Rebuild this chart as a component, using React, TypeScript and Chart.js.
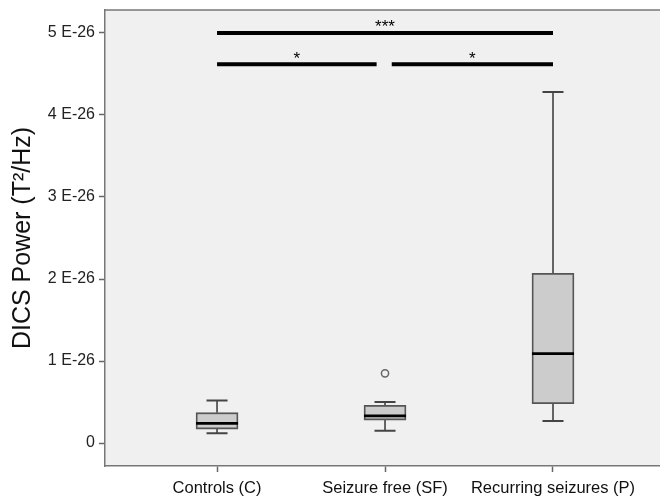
import React, { useEffect, useRef } from 'react';
import { Chart, registerables } from 'chart.js';

Chart.register(...registerables);

// Values in units of 1 E-26 T²/Hz
const categories = ['Controls (C)', 'Seizure free (SF)', 'Recurring seizures (P)'];
const whiskerLow = [0.12, 0.15, 0.27];
const quartile1 = [0.17, 0.28, 0.48];
const medians = [0.24, 0.33, 1.09];
const quartile3 = [0.37, 0.46, 2.07];
const whiskerHigh = [0.52, 0.5, 4.28];
const outlierGroup = [1];
const outlierValue = [0.85];

const yTickValues = [0, 1, 2, 3, 4, 5];

// significance brackets
const sigFrom = [0, 0, 1.04];
const sigTo = [2, 0.95, 2];
const sigLevel = [5.0, 4.62, 4.62];
const sigLabel = ['***', '*', '*'];

const CAP_HALF = 0.0625;
const BOX_HALF = 0.125;
const FONT = '"Liberation Sans", Arial, sans-serif';

function zeroPadding(scale: any) {
  scale.paddingTop = 0;
  scale.paddingBottom = 0;
  scale.paddingLeft = 0;
  scale.paddingRight = 0;
}

export default function App() {
  const ref = useRef<HTMLCanvasElement>(null);

  useEffect(() => {
    document.body.style.margin = '0';
    const canvas = ref.current!;

    const boxData = categories.map((_, i) => ({ x: i, y: [quartile1[i], quartile3[i]] }));
    const whiskerData: any[] = [];
    const capData: any[] = [];
    const medianData: any[] = [];
    categories.forEach((_, i) => {
      whiskerData.push(
        { x: i, y: quartile3[i] }, { x: i, y: whiskerHigh[i] }, { x: i, y: null },
        { x: i, y: quartile1[i] }, { x: i, y: whiskerLow[i] }, { x: i, y: null }
      );
      capData.push(
        { x: i - CAP_HALF, y: whiskerHigh[i] }, { x: i + CAP_HALF, y: whiskerHigh[i] }, { x: i, y: null },
        { x: i - CAP_HALF, y: whiskerLow[i] }, { x: i + CAP_HALF, y: whiskerLow[i] }, { x: i, y: null }
      );
      medianData.push(
        { x: i - BOX_HALF, y: medians[i] }, { x: i + BOX_HALF, y: medians[i] }, { x: i, y: null }
      );
    });
    const outlierData = outlierGroup.map((g, k) => ({ x: g, y: outlierValue[k] }));
    const sigDatasets = sigFrom.map((f, k) => ({
      type: 'line' as const,
      data: [{ x: f, y: sigLevel[k] }, { x: sigTo[k], y: sigLevel[k] }],
      borderColor: '#000',
      borderWidth: 4,
      pointRadius: 0,
      borderCapStyle: 'butt' as const,
      order: 0,
    }));

    const bgPlugin = {
      id: 'plotBg',
      beforeDraw(chart: any) {
        const { ctx, chartArea } = chart;
        ctx.save();
        ctx.fillStyle = '#f0f0f0';
        ctx.fillRect(chartArea.left, chartArea.top, chartArea.right - chartArea.left, chartArea.bottom - chartArea.top);
        ctx.strokeStyle = '#777';
        ctx.lineWidth = 1.5;
        ctx.beginPath();
        ctx.moveTo(chartArea.left, chartArea.top);
        ctx.lineTo(chartArea.right, chartArea.top);
        ctx.stroke();
        ctx.restore();
      },
    };

    const sigPlugin = {
      id: 'sigLabels',
      afterDatasetsDraw(chart: any) {
        const { ctx } = chart;
        const xs = chart.scales.x;
        const ys = chart.scales.y;
        ctx.save();
        ctx.fillStyle = '#000';
        ctx.font = `17px ${FONT}`;
        ctx.textAlign = 'center';
        ctx.textBaseline = 'alphabetic';
        sigLabel.forEach((lab, k) => {
          const x = xs.getPixelForValue((sigFrom[k] + sigTo[k]) / 2);
          const y = ys.getPixelForValue(sigLevel[k]);
          ctx.fillText(lab, x, y - 0.5);
        });
        ctx.restore();
      },
    };

    const chart = new Chart(canvas, {
      type: 'bar',
      data: {
        datasets: [
          {
            type: 'bar',
            data: boxData as any,
            backgroundColor: '#cccccc',
            borderColor: '#555',
            borderWidth: 1.8,
            borderSkipped: false,
            barThickness: 42,
            order: 5,
          } as any,
          {
            type: 'line',
            data: whiskerData,
            borderColor: '#555',
            borderWidth: 1.8,
            pointRadius: 0,
            spanGaps: false,
            order: 4,
          },
          {
            type: 'line',
            data: capData,
            borderColor: '#444',
            borderWidth: 2,
            pointRadius: 0,
            spanGaps: false,
            order: 3,
          },
          {
            type: 'line',
            data: medianData,
            borderColor: '#000',
            borderWidth: 2.7,
            pointRadius: 0,
            spanGaps: false,
            order: 1,
          },
          {
            type: 'line',
            data: outlierData,
            showLine: false,
            pointRadius: 3.6,
            pointStyle: 'circle',
            pointBackgroundColor: '#f0f0f0',
            pointBorderColor: '#666',
            pointBorderWidth: 1.5,
            order: 2,
          },
          ...sigDatasets,
        ] as any,
      },
      options: {
        responsive: false,
        animation: false,
        layout: { autoPadding: false, padding: { top: 10, left: 0, right: 0, bottom: 0 } },
        plugins: { legend: { display: false }, tooltip: { enabled: false } },
        scales: {
          x: {
            type: 'linear',
            min: -0.667,
            max: 2.637,
            offset: false,
            afterBuildTicks: (scale: any) => {
              scale.ticks = categories.map((_, i) => ({ value: i }));
            },
            afterFit: (scale: any) => {
              scale.height = 32;
              zeroPadding(scale);
            },
            ticks: {
              callback: (v: any) => categories[Math.round(Number(v))] ?? '',
              color: '#111',
              font: { family: FONT, size: 16.5 },
              padding: 7,
              maxRotation: 0,
              autoSkip: false,
            },
            grid: { offset: false, drawOnChartArea: false, drawTicks: true, tickLength: 6, color: '#666', tickWidth: 1.5 },
            border: { display: true, color: '#777', width: 1.5 },
          },
          y: {
            type: 'linear',
            min: -0.28,
            max: 5.28,
            afterBuildTicks: (scale: any) => {
              scale.ticks = yTickValues.map((v) => ({ value: v }));
            },
            afterFit: (scale: any) => {
              scale.width = 105;
              zeroPadding(scale);
            },
            ticks: {
              callback: (v: any) => (Number(v) === 0 ? '0' : `${v} E-26`),
              color: '#222',
              font: { family: FONT, size: 16 },
              padding: 4,
            },
            grid: { drawOnChartArea: false, drawTicks: true, tickLength: 6, color: '#666', tickWidth: 1.5 },
            border: { display: true, color: '#777', width: 1.5 },
            title: {
              display: true,
              text: 'DICS Power (T²/Hz)',
              color: '#111',
              font: { family: FONT, size: 25 },
              padding: { top: 8, bottom: 0 },
            },
          },
        },
      },
      plugins: [bgPlugin, sigPlugin],
    });

    return () => chart.destroy();
  }, []);

  return (
    <div style={{ width: 660, height: 498, background: '#fff' }}>
      <canvas ref={ref} width={660} height={498} style={{ display: 'block' }} />
    </div>
  );
}
